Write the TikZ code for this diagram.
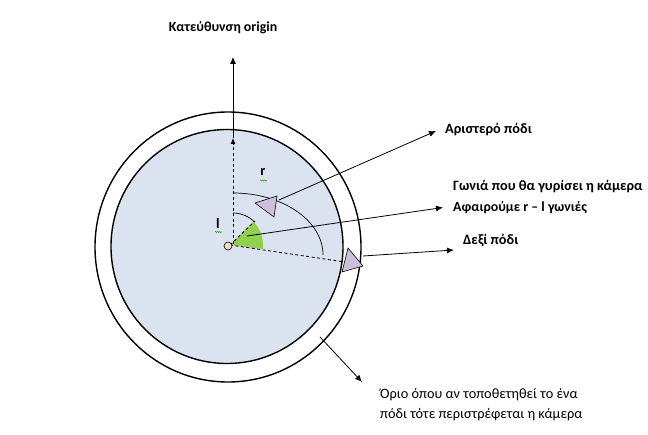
\documentclass[tikz,border=0pt]{standalone}
\usepackage{fontspec}
\setmainfont{Carlito}
\usetikzlibrary{arrows.meta,decorations.pathmorphing}
\definecolor{diskblue}{HTML}{DAE3EF}
\definecolor{footfill}{HTML}{CCC1DA}
\definecolor{wedgegreen}{HTML}{92D050}
\definecolor{dotfill}{HTML}{F6D9CC}
\definecolor{squig}{HTML}{3C9A3C}
\tikzset{
  ring/.style={line width=1.4pt},
  conn/.style={line width=0.8pt,-{Latex[length=7pt,width=6pt]}},
  dashconn/.style={line width=0.8pt,dashed,dash pattern=on 3pt off 2.5pt},
  lbl/.style={font=\bfseries\fontsize{14.3}{17}\selectfont,anchor=west,inner sep=0pt},
  lblr/.style={font=\fontsize{14.3}{17}\selectfont,anchor=west,inner sep=0pt},
  foot/.style={draw,line width=0.6pt,fill=footfill},
  wave/.style={squig,line width=0.5pt,decorate,decoration={snake,amplitude=0.7pt,segment length=2pt}}
}
\begin{document}
\begin{tikzpicture}[x=1pt,y=-1pt]
\useasboundingbox (0,0) rectangle (648,435);
% rings
\draw[ring] (228,247) ellipse [x radius=133,y radius=135];
\draw[ring,fill=diskblue] (227,246.5) ellipse [x radius=116,y radius=117];
% coordinates
\coordinate (c) at (230,245);
\coordinate (vbase) at (233,244);
\coordinate (vtip) at (233,138);
\coordinate (vtop) at (233,57);
\coordinate (lf) at (268,205);
\coordinate (lfout) at (279,200);
\coordinate (rf) at (345,262);
\coordinate (rfout) at (363,256);
\coordinate (wd) at (247,236);
\coordinate (ringpt) at (320,337);
% green wedge
\fill[wedgegreen] (c) -- ++(-45:33) arc[start angle=-45,end angle=7,radius=33] -- cycle;
% dashed lines
\draw[dashconn,-{Latex[length=6pt,width=5pt]}] (vbase) -- (vtip);
\draw[dashconn] (c) -- (255,221);
\draw[dashconn] (c) -- (rf);
% vertical solid arrow
\draw[conn] (vtip) -- (vtop);
% arcs
\draw[line width=0.7pt] (233,213) arc[start angle=-90,end angle=-44,radius=30];
\draw[line width=0.7pt] (233,193) arc[start angle=-90,end angle=0,x radius=90,y radius=62];
% feet
\draw[foot] (255,203) -- (277,196) -- (274,217) -- cycle;
\draw[foot] (348,248) -- (363,266) -- (342,272) -- cycle;
% center dot
\node[draw,circle,fill=dotfill,minimum size=8pt,inner sep=0pt,line width=0.6pt] (cdot) at (228,246) {};
% labels
\node[lbl] (lLeft) at (445,130) {Αριστερό πόδι};
\node[lbl] (lAngle) at (453,187) {Γωνιά που θα γυρίσει η κάμερα};
\node[lbl,font=\bfseries\fontsize{13.9}{17}\selectfont] (lSub) at (453,207.5) {Αφαιρούμε r – l γωνιές};
\node[lbl] (lRight) at (463,240) {Δεξί πόδι};
\node[lbl,anchor=center,font=\bfseries\fontsize{13.9}{17}\selectfont] (lOrigin) at (223,28) {Κατεύθυνση origin};
\node[lblr] (lLim1) at (380,395) {Όριο όπου αν τοποθετηθεί το ένα};
\node[lblr] (lLim2) at (380,415) {πόδι τότε περιστρέφεται  η κάμερα};
% connectors
\draw[conn] (lfout) -- (436,131);
\draw[conn] (wd) -- (443,207.5);
\draw[conn] (rfout) -- (454,250);
\draw[conn] (ringpt) -- (362,382);
% angle labels
\node[lbl,anchor=center] (rl) at (263,172) {r};
\node[lbl,anchor=center] (ll) at (218,223) {l};
\draw[wave] (260,180.5) -- (267,180.5);
\draw[wave] (215,232) -- (222,232);
\end{tikzpicture}
\end{document}
